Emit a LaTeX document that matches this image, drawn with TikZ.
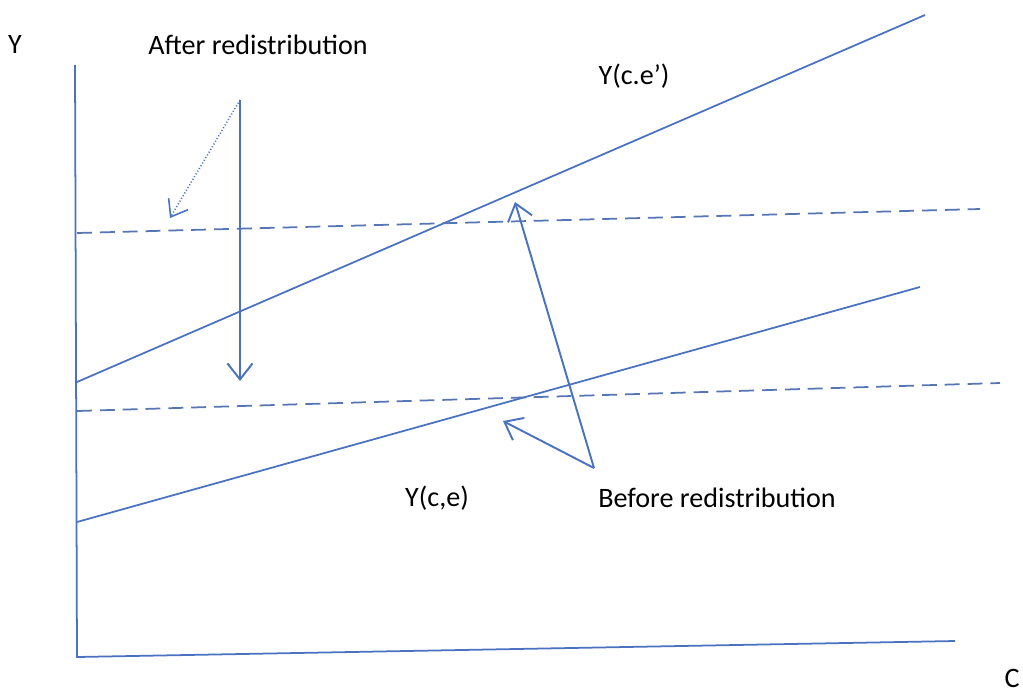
\documentclass[tikz,border=0pt]{standalone}
\usepackage{fontspec}
\setmainfont{Carlito}
\usetikzlibrary{positioning,arrows.meta}
\definecolor{lineblue}{HTML}{4A72C0}

\begin{document}
\begin{tikzpicture}[
        x=0.2mm, y=-0.2mm,
        axis/.style={lineblue, line width=1pt},
        curve/.style={lineblue, line width=1pt},
        level/.style={lineblue!80!gray, line width=1pt, dash pattern=on 8.5pt off 4.5pt},
        movearrow/.style={lineblue, line width=1.1pt, -{Straight Barb[length=3.2mm, width=5mm]}},
        hint/.style={lineblue, line width=0.9pt, dash pattern=on 0.6pt off 1.2pt, -{Straight Barb[length=3mm, width=4.5mm]}},
        label/.style={font=\fontsize{16}{18}\selectfont, inner sep=0pt},
    ]
    \useasboundingbox (0,0) rectangle (1023,693);

    % Axes
    \coordinate (ytop) at (75,65);
    \coordinate (origin) at (77,657);
    \coordinate (xend) at (955,641);
    \draw[axis] (ytop) -- (origin) -- (xend);
    \node[label] (ylab) at (15,44) {Y};
    \node[label, anchor=east] (clab) at (1020,678) {C};

    % Income lines
    \coordinate (hi0) at (77,382);
    \coordinate (hi1) at (925,15);
    \coordinate (lo0) at (77,522);
    \coordinate (lo1) at (920,287);
    \draw[curve] (hi0) -- (hi1);
    \draw[curve] (lo0) -- (lo1);
    \node[label] (yhi) at (634,76) {Y(c.e’)};
    \node[label] (ylo) at (437,498) {Y(c,e)};

    % Dashed levels
    \coordinate (dup0) at (77,233);
    \coordinate (dup1) at (980,209);
    \coordinate (ddn0) at (77,411);
    \coordinate (ddn1) at (1000,383);
    \draw[level] (dup0) -- (dup1);
    \draw[level] (ddn0) -- (ddn1);

    % After redistribution
    \node[label] (after) at (258,45) {After redistribution};
    \coordinate (astart) at (240,100);
    \coordinate (aend) at (240,381);
    \coordinate (aleft) at (170,218);
    \draw[movearrow] (astart) -- (aend);
    \draw[hint] (astart) -- (aleft);

    % Before redistribution
    \node[label] (before) at (717,498) {Before redistribution};
    \coordinate (bstart) at (594,468);
    \coordinate (btop) at (515,202);
    \coordinate (bleft) at (503,421);
    \draw[movearrow] (bstart) -- (btop);
    \draw[movearrow] (bstart) -- (bleft);

\end{tikzpicture}
\end{document}
